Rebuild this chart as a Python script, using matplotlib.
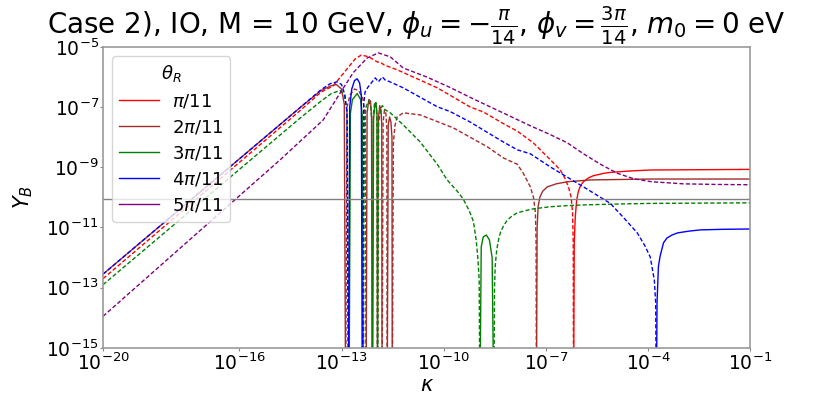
import numpy as np
import matplotlib
matplotlib.use("Agg")
import matplotlib.pyplot as plt
from matplotlib.lines import Line2D

# values: log10(kappa), log10|Y_B|
# Z marks a sign change of Y_B (|Y_B| -> 0, drawn below the axis)
Z = -17.0

labels = [r"$\pi/11$", r"$2\pi/11$", r"$3\pi/11$", r"$4\pi/11$", r"$5\pi/11$"]
colors = ["red", "brown", "green", "blue", "purple"]
start_sign = [-1, 1, -1, -1, -1]     # solid = Y_B > 0, dashed = Y_B < 0

lk_red = [-20, -14.2, -13.6, -13.25, -12.83, -12.6, -12.42, -12.2, -11.95,
          -11.85, -11.75, -11.37, -10.19, -9.22, -8.84, -8.25, -7.84, -7.37,
          -6.87, -6.58, -6.45, -6.34, -6.26, -6.22, -6.20, -6.19,
          -6.17, -6.14, -6.10, -6.05, -5.98, -5.90, -5.75, -5.61, -5.3,
          -5.11, -4.5, -3.94, -1]
ly_red = [-12.7, -7.1, -6.5, -6.3, -5.72, -5.4, -5.27, -5.33, -5.5,
          -5.52, -5.6, -5.76, -6.36, -7.0, -7.16, -7.55, -7.8, -8.19,
          -8.75, -9.09, -9.35, -9.65, -10.0, -10.5, -11.5, Z,
          -11.5, -10.65, -10.1, -9.8, -9.6, -9.48, -9.35, -9.28, -9.2,
          -9.17, -9.12, -9.09, -9.07]

lk_brown = [-20, -14.2, -13.6, -13.33, -13.15, -13.0, -12.92, -12.88,
            -12.84, -12.75, -12.62, -12.5, -12.38, -12.3, -12.28,
            -12.25, -12.2, -12.15, -12.12, -12.10,
            -12.07, -12.03, -11.98, -11.96, -11.95,
            -11.92, -11.88, -11.84, -11.82, -11.81,
            -11.78, -11.74, -11.70, -11.67, -11.66,
            -11.63, -11.59, -11.55, -11.52, -11.51,
            -11.48, -11.43, -11.37, -11.19, -10.69, -9.72, -8.72, -8.25,
            -7.84, -7.67, -7.55, -7.46, -7.37, -7.31, -7.29, -7.28,
            -7.26, -7.23, -7.18, -7.10, -6.96, -6.7, -6.37, -5.70, -3.94, -1]
ly_brown = [-12.55, -7.0, -6.45, -6.3, -6.25, -6.4, -6.9, Z,
            -7.0, -6.6, -6.4, -6.45, -6.7, -7.3, Z,
            -7.2, -6.75, -6.8, -7.3, Z,
            -7.3, -6.85, -7.0, -7.5, Z,
            -7.4, -6.95, -7.1, -7.6, Z,
            -7.5, -7.1, -7.2, -7.7, Z,
            -7.6, -7.33, -7.5, -8.0, Z,
            -8.2, -7.6, -7.33, -7.19, -7.26, -7.69, -8.32, -8.69,
            -8.9, -9.19, -9.45, -9.65, -9.98, -10.5, -11.5, Z,
            -11.0, -10.3, -10.0, -9.8, -9.65, -9.55, -9.48, -9.42, -9.39,
            -9.39]

lk_green = [-20, -14.2, -13.6, -13.3, -13.04, -12.92, -12.84, -12.78,
            -12.74, -12.68, -12.54, -12.44, -12.39, -12.36,
            -12.33, -12.27, -12.2, -12.14, -12.11, -12.09,
            -12.06, -12.02, -11.99, -11.96, -11.94,
            -11.91, -11.85, -11.8, -11.72, -11.57, -11.19, -10.69, -10.19,
            -9.90, -9.6, -9.43, -9.25, -9.13, -9.05, -9.0, -8.96, -8.94,
            -8.90, -8.84, -8.75, -8.66, -8.58, -8.53,
            -8.51, -8.49, -8.46, -8.43, -8.38, -8.34, -8.25, -8.13, -8.0,
            -7.84, -7.6, -7.37, -6.87, -6.3, -5.90, -4.9, -3.94, -1]
ly_green = [-12.9, -7.35, -6.8, -6.55, -6.45, -6.6, -7.1, Z,
            -7.2, -6.75, -6.55, -6.75, -7.3, Z,
            -7.4, -6.95, -6.8, -7.0, -7.5, Z,
            -7.4, -6.9, -6.85, -7.2, Z,
            -7.5, -7.05, -6.95, -7.09, -7.19, -7.59, -8.16, -8.9,
            -9.42, -9.8, -10.05, -10.45, -10.8, -11.4, -12.0, -12.74, Z,
            -11.64, -11.31, -11.25, -11.41, -12.0, Z,
            -13.0, -12.3, -11.9, -11.64, -11.35, -11.18, -10.95, -10.75,
            -10.62, -10.51, -10.44, -10.38, -10.31, -10.27, -10.25, -10.22,
            -10.2, -10.18]

lk_blue = [-20, -14.2, -13.6, -13.33, -13.13, -13.0, -12.9, -12.84, -12.80,
           -12.76, -12.7, -12.62, -12.54, -12.47, -12.42, -12.39,
           -12.35, -12.31, -12.22, -12.10, -12.01, -11.92, -11.80, -11.72,
           -11.6, -11.19, -10.19, -9.81, -9.22, -8.84, -8.25, -7.84, -7.46,
           -6.87, -5.90, -5.11, -4.7, -4.32, -4.1, -3.94, -3.82, -3.78,
           -3.76,
           -3.74, -3.70, -3.65, -3.55, -3.45, -3.3, -3.14, -2.8, -2.47, -1.8,
           -1]
ly_blue = [-12.55, -7.0, -6.42, -6.22, -6.16, -6.25, -6.6, -7.2, Z,
           -7.0, -6.4, -6.12, -6.06, -6.2, -6.6, Z,
           -6.9, -6.5, -6.33, -6.16, -6.03, -6.16, -6.0, -6.1,
           -6.15, -6.36, -6.99, -7.15, -7.5, -7.76, -8.16, -8.42, -8.55,
           -8.99, -9.65, -10.2, -10.7, -11.18, -11.6, -11.98, -12.74, -13.5,
           Z,
           -13.5, -12.3, -11.95, -11.51, -11.35, -11.25, -11.18, -11.12,
           -11.08, -11.06, -11.05]

lk_purple = [-20, -14.8, -13.54, -13.04, -12.66, -12.25, -11.92, -11.57,
             -11.19, -10.5, -9.81, -9.22, -8.34, -7.46, -6.9, -6.37, -5.9,
             -5.40, -4.9, -4.43, -3.9, -2.96, -2.0, -1]
ly_purple = [-13.95, -8.75, -7.43, -6.53, -5.86, -5.37, -5.2, -5.33,
             -5.7, -6.0, -6.35, -6.68, -7.15, -7.62, -7.9, -8.19, -8.55,
             -8.9, -9.2, -9.38, -9.48, -9.55, -9.57, -9.58]

series = [(lk_red, ly_red), (lk_brown, ly_brown), (lk_green, ly_green),
          (lk_blue, ly_blue), (lk_purple, ly_purple)]

Y_OBS = 8.7e-11

xticks = [1e-20, 1e-16, 1e-13, 1e-10, 1e-7, 1e-4, 1e-1]
yticks = [1e-15, 1e-13, 1e-11, 1e-9, 1e-7, 1e-5]

fig = plt.figure(figsize=(8.31, 3.94), dpi=100)
ax = fig.add_axes([0.124, 0.117, 0.779, 0.764])

for (lk, ly), c, s0 in zip(series, colors, start_sign):
    k = 10.0 ** np.array(lk)
    y = 10.0 ** np.array(ly)
    sign = s0
    seg = [0]
    for i in range(1, len(lk)):
        seg.append(i)
        if ly[i] == Z or i == len(lk) - 1:
            ls = "-" if sign > 0 else (0, (3.0, 1.6))
            ax.plot(k[seg], y[seg], color=c, lw=1.0, ls=ls)
            seg = [i]
            if ly[i] == Z:
                sign = -sign

ax.axhline(Y_OBS, color="gray", lw=1.0)

ax.set_xscale("log")
ax.set_yscale("log")
ax.set_xlim(1e-20, 1e-1)
ax.set_ylim(1e-15, 1e-5)
ax.set_xticks(xticks)
ax.set_yticks(yticks)
ax.minorticks_off()
ax.tick_params(labelsize=13.5, color="#888888", length=2, pad=1.0)
for sp in ax.spines.values():
    sp.set_color("#999999")
    sp.set_linewidth(1.2)
ax.set_xlabel(r"$\kappa$", fontsize=15, labelpad=1)
ax.set_ylabel(r"$Y_B$", fontsize=15, labelpad=8)

handles = [Line2D([], [], color=c, lw=1.0) for c in colors]
ax.legend(handles, labels, title=r"$\theta_R$", loc="upper left",
          fontsize=13, title_fontsize=13, handlelength=2.2,
          handletextpad=0.7, labelspacing=0.45)

# title centred on the figure, not on the axes
ax.set_title(r"Case 2), IO, M = 10 GeV, $\phi_u = -\frac{\pi}{14}$, "
             r"$\phi_v = \frac{3\pi}{14}$, $m_0 = 0$ eV", fontsize=20, pad=9,
             x=0.483)

fig.savefig("out.png", dpi=100)
